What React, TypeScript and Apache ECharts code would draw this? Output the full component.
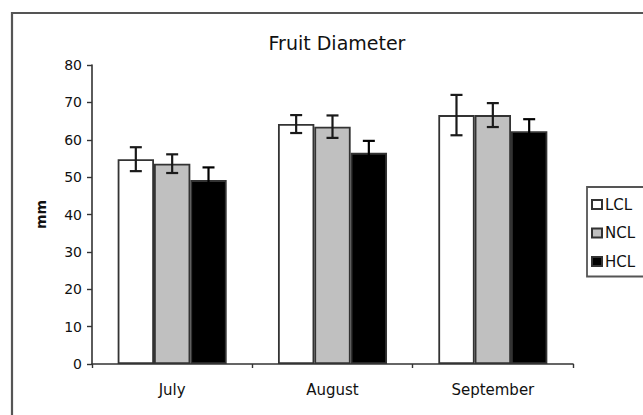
import React, { useEffect, useRef } from "react";
import * as echarts from "echarts";

const categories = ["July", "August", "September"];
const seriesNames = ["LCL", "NCL", "HCL"];
const lclValues = [54.8, 64.2, 66.6];
const nclValues = [53.6, 63.5, 66.6];
const hclValues = [49.2, 56.5, 62.3];
const lclErrors = [3.2, 2.4, 5.4];
const nclErrors = [2.5, 3.0, 3.2];
const hclErrors = [3.4, 3.2, 3.2];
const yTicks = { min: 0, max: 80, interval: 10 };

const fills = ["#ffffff", "#c0c0c0", "#000000"];
const errColors = ["#1a1a1a", "#1a1a1a", "#000000"];
const FONT = "DejaVu Sans, Verdana, sans-serif";

export default function App() {
  const ref = useRef<HTMLDivElement>(null);
  useEffect(() => {
    if (!ref.current) return;
    const chart = echarts.init(ref.current, undefined, { renderer: "svg" });
    const values = [lclValues, nclValues, hclValues];
    const errors = [lclErrors, nclErrors, hclErrors];
    const catGap = 0.32;

    const barSeries = seriesNames.map((name, k) => ({
      name,
      type: "bar",
      data: values[k],
      barGap: "0%",
      barCategoryGap: "32%",
      itemStyle: { color: fills[k], borderColor: "#333333", borderWidth: 1.8 },
      z: 2,
    }));

    const errSeries = seriesNames.map((name, k) => ({
      name: name + "_err",
      type: "custom",
      z: 5,
      silent: true,
      data: values[k].map((v, i) => [i, v - errors[k][i], v + errors[k][i]]),
      renderItem: (params: any, api: any) => {
        const idx = api.value(0);
        const lo = api.coord([idx, api.value(1)]);
        const hi = api.coord([idx, api.value(2)]);
        const band = api.size([1, 0])[0];
        const bw = (band * (1 - catGap)) / 3;
        const cx = lo[0] + (k - 1) * bw;
        const cap = 6;
        const style = { stroke: errColors[k], lineWidth: 2.2 };
        return {
          type: "group",
          children: [
            { type: "line", shape: { x1: cx, y1: lo[1], x2: cx, y2: hi[1] }, style },
            { type: "line", shape: { x1: cx - cap, y1: lo[1], x2: cx + cap, y2: lo[1] }, style },
            { type: "line", shape: { x1: cx - cap, y1: hi[1], x2: cx + cap, y2: hi[1] }, style },
          ],
        };
      },
    }));

    chart.setOption({
      animation: false,
      backgroundColor: "#ffffff",
      textStyle: { fontFamily: FONT },
      title: {
        text: "Fruit Diameter",
        left: 332,
        top: 28,
        textAlign: "center",
        textStyle: { fontFamily: FONT, fontSize: 19, fontWeight: "normal", color: "#111" },
      },
      graphic: [
        {
          type: "rect",
          shape: { x: 12, y: 13, width: 660, height: 430 },
          style: { fill: "none", stroke: "#555555", lineWidth: 2.2 },
          z: 100,
        },
      ],
      legend: {
        data: seriesNames,
        orient: "vertical",
        left: 587,
        top: 187,
        padding: [10, 40, 7.5, 4],
        itemWidth: 10,
        itemHeight: 9,
        itemGap: 13.5,
        icon: "rect",
        borderColor: "#555555",
        borderWidth: 1.8,
        textStyle: {
          fontFamily: FONT,
          fontSize: 15,
          lineHeight: 15,
          color: "#111",
          padding: [0, 0, 0, -2],
        },
      },
      grid: { left: 92, right: 70, top: 65, bottom: 51 },
      xAxis: {
        type: "category",
        data: categories,
        axisLine: { lineStyle: { color: "#333333", width: 1.6 } },
        axisTick: { show: true, length: 4, lineStyle: { color: "#333333", width: 1.4 } },
        axisLabel: { fontFamily: FONT, fontSize: 15, color: "#111", margin: 18 },
      },
      yAxis: {
        type: "value",
        min: yTicks.min,
        max: yTicks.max,
        interval: yTicks.interval,
        name: "mm",
        nameLocation: "middle",
        nameGap: 44,
        nameTextStyle: { fontFamily: FONT, fontSize: 14, fontWeight: "bold", color: "#111" },
        axisLine: { show: true, lineStyle: { color: "#333333", width: 1.6 } },
        axisTick: { show: true, length: 5, lineStyle: { color: "#333333", width: 1.4 } },
        axisLabel: { fontFamily: FONT, fontSize: 14, color: "#111", margin: 10 },
        splitLine: { show: false },
      },
      series: [...barSeries, ...errSeries],
    });
    return () => chart.dispose();
  }, []);
  return (
    <div
      ref={ref}
      style={{ position: "absolute", left: 0, top: 0, width: 643, height: 415 }}
    />
  );
}
